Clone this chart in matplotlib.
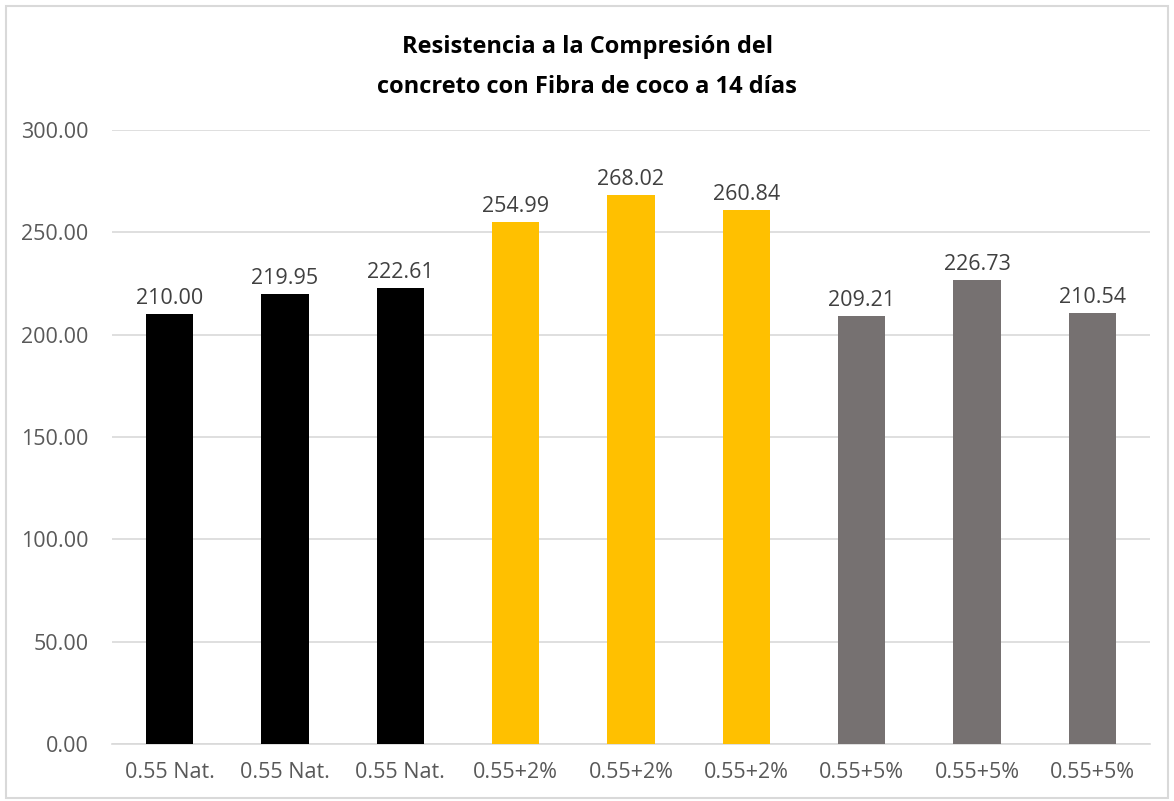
import matplotlib
matplotlib.use("Agg")
import matplotlib.pyplot as plt
from matplotlib.patches import Rectangle

plt.rcParams['font.family'] = ['Open Sans', 'DejaVu Sans']

# datos
labels = ['0.55 Nat.', '0.55 Nat.', '0.55 Nat.',
          '0.55+2%', '0.55+2%', '0.55+2%',
          '0.55+5%', '0.55+5%', '0.55+5%']
valores = [210.00, 219.95, 222.61, 254.99, 268.02, 260.84, 209.21, 226.73, 210.54]
colores = ['#000000'] * 3 + ['#FFC000'] * 3 + ['#767171'] * 3
yticks = [0, 50, 100, 150, 200, 250, 300]

fig = plt.figure(figsize=(11.74, 8.01), dpi=100)
ax = fig.add_axes([112/1174, 1 - 744/801, (1150-112)/1174, (744-130)/801])

x = range(len(valores))
bars = ax.bar(x, valores, width=0.41, color=colores, zorder=3)
for b, v in zip(bars, valores):
    ax.text(b.get_x() + b.get_width()/2, v + 2.5, '%.2f' % v,
            ha='center', va='bottom', fontsize=15.5, color='#404040')

ax.set_xlim(-0.5, len(valores) - 0.5)
ax.set_ylim(0, 300)
ax.set_yticks(yticks)
ax.set_yticklabels(['%.2f' % t for t in yticks])
ax.set_xticks(list(x))
ax.set_xticklabels(labels)
ax.tick_params(axis='both', length=0, labelsize=15.5, colors='#595959')
ax.tick_params(axis='x', pad=13)
ax.tick_params(axis='y', pad=17)
ax.grid(axis='y', color='#D9D9D9', linewidth=1.2, zorder=0)
for s in ['top', 'right', 'left']:
    ax.spines[s].set_visible(False)
ax.spines['bottom'].set_color('#D9D9D9')
ax.spines['bottom'].set_linewidth(1.2)

fig.text(0.5, 1 - 67/801, 'Resistencia a la Compresión del\nconcreto con Fibra de coco a 14 días',
         ha='center', va='center', fontsize=17, fontweight='bold',
         color='#000000', linespacing=1.9)

fig.patches.append(Rectangle((6/1174, 3/801), 1162/1174, 792/801,
                             transform=fig.transFigure, fill=False,
                             edgecolor='#D9D9D9', linewidth=1.5))

fig.savefig('out.png', dpi=100)
